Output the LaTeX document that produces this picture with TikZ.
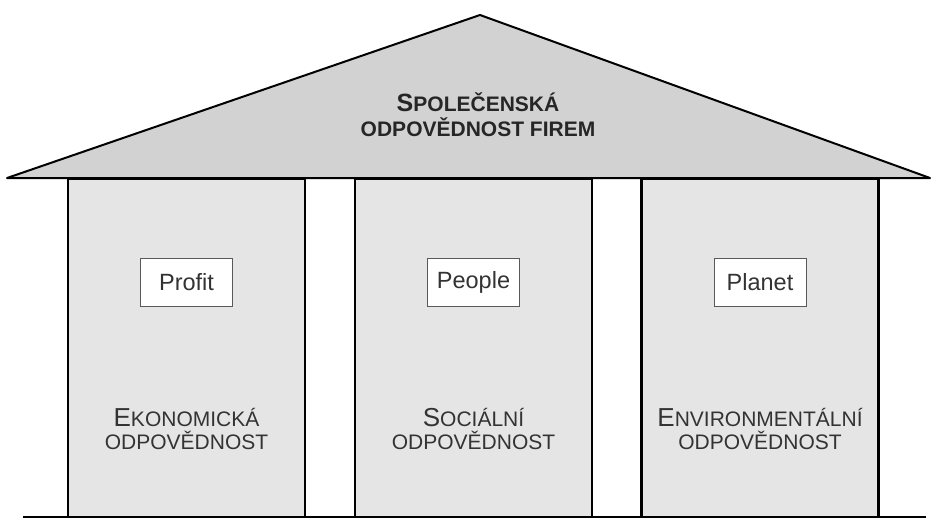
\documentclass[tikz,border=0pt]{standalone}
\usepackage{fontspec}
\setmainfont{Liberation Sans}
\newcommand\initialcap[2]{{\fontsize{#1}{#1}\selectfont #2}}

\tikzset{
	pillar/.style={draw, line width=2.5pt, fill=gray!20, minimum width=237pt,
		minimum height=338pt, inner sep=0pt},
	tag/.style={draw=black!65, line width=1pt, fill=white, minimum width=92pt,
		minimum height=48pt, font=\fontsize{23.5}{23.5}\selectfont, text=black!80},
	pillartext/.style={align=center, font=\fontsize{21}{23}\selectfont, text=black!80},
	rooftext/.style={align=center, font=\bfseries\fontsize{21}{25}\selectfont, text=black!85}
}

\begin{document}
\begin{tikzpicture}[x=1pt,y=-1pt]
	\useasboundingbox (0,0) rectangle (931,519);
	\node[pillar] (eko) at (186.5,348) {};
	\node[pillar] (soc) at (473.5,348) {};
	\node[pillar] (env) at (760,348) {};
	\filldraw[fill=gray!35, line width=2pt, line join=round]
	(7,178) -- (480,15) -- (930,178) -- cycle;
	\draw[line width=2.5pt] (23,517) -- (926,517);
	\node[rooftext] (csr) at (478,115)
	{\initialcap{25}{S}POLEČENSKÁ\\ODPOVĚDNOST FIREM};
	\node[tag] (profit) at (eko |- 0,282) {Profit};
	\node[tag] (people) at (soc |- 0,282) {People};
	\node[tag] (planet) at (env |- 0,282) {Planet};
	\node[pillartext] (ekotext) at (eko |- 0,429)
	{\initialcap{26}{E}KONOMICKÁ\\ODPOVĚDNOST};
	\node[pillartext] (soctext) at (soc |- 0,429)
	{\initialcap{26}{S}OCIÁLNÍ\\ODPOVĚDNOST};
	\node[pillartext] (envtext) at (env |- 0,429)
	{\initialcap{26}{E}NVIRONMENTÁLNÍ\\ODPOVĚDNOST};
\end{tikzpicture}
\end{document}
